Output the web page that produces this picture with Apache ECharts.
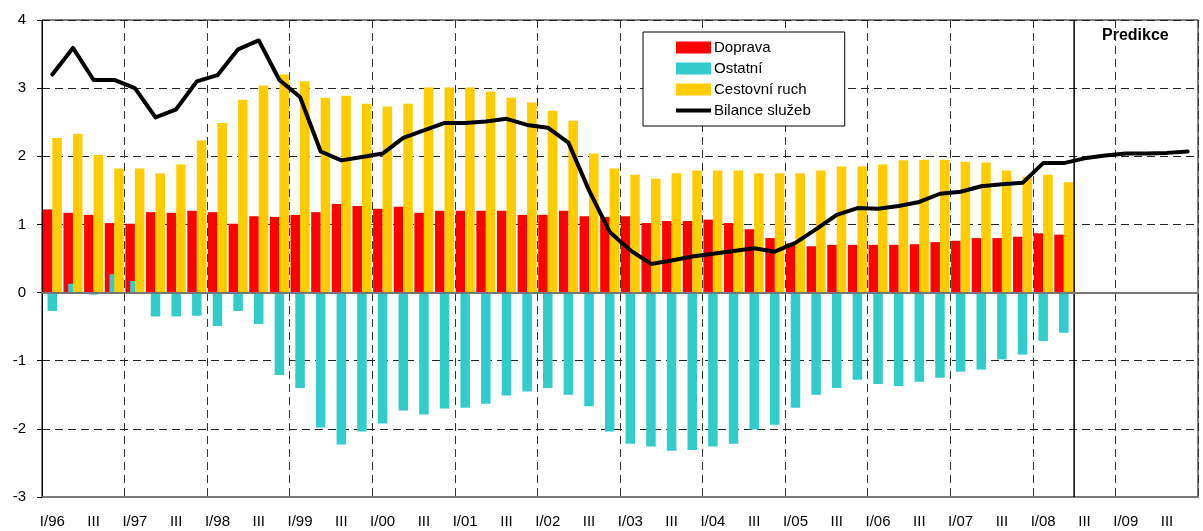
<!DOCTYPE html>
<html>
<head>
<meta charset="utf-8">
<script src="https://cdn.jsdelivr.net/npm/echarts@6/dist/echarts.min.js"></script>
<style>
  html, body { margin: 0; padding: 0; background: #fff; }
  #chart { width: 1203px; height: 531px; }
</style>
</head>
<body>
<div id="chart"></div>
<script>
// quarters I/96 .. IV/09
const quarters = [
    "I/96", "II/96", "III/96", "IV/96", "I/97", "II/97", "III/97", "IV/97",
    "I/98", "II/98", "III/98", "IV/98", "I/99", "II/99", "III/99", "IV/99",
    "I/00", "II/00", "III/00", "IV/00", "I/01", "II/01", "III/01", "IV/01",
    "I/02", "II/02", "III/02", "IV/02", "I/03", "II/03", "III/03", "IV/03",
    "I/04", "II/04", "III/04", "IV/04", "I/05", "II/05", "III/05", "IV/05",
    "I/06", "II/06", "III/06", "IV/06", "I/07", "II/07", "III/07", "IV/07",
    "I/08", "II/08", "III/08", "IV/08", "I/09", "II/09", "III/09", "IV/09",
];

const doprava = [1.22, 1.17, 1.14, 1.02, 1.01, 1.18, 1.17, 1.20, 1.18, 1.01, 1.12, 1.11,
    1.14, 1.18, 1.30, 1.27, 1.23, 1.26, 1.17, 1.20, 1.20, 1.20, 1.20, 1.14, 1.14, 1.20, 1.12,
    1.11, 1.12, 1.02, 1.05, 1.05, 1.07, 1.02, 0.93, 0.80, 0.72, 0.68, 0.70, 0.70, 0.70, 0.70,
    0.71, 0.74, 0.76, 0.80, 0.80, 0.82, 0.87, 0.85];

const ostatni = [-0.27, 0.13, -0.03, 0.27, 0.17, -0.35, -0.35, -0.34, -0.49, -0.27, -0.46, -1.21, -1.40,
    -1.98, -2.23, -2.04, -1.92, -1.73, -1.79, -1.70, -1.69, -1.63, -1.51, -1.45, -1.40, -1.50, -1.67,
    -2.04, -2.22, -2.26, -2.32, -2.31, -2.26, -2.22, -2.01, -1.94, -1.69, -1.50, -1.40, -1.28, -1.34, -1.37,
    -1.31, -1.25, -1.16, -1.13, -0.98, -0.91, -0.71, -0.59];

const cestovniRuch = [2.27, 2.33, 2.02, 1.82, 1.82, 1.75, 1.88, 2.23, 2.49, 2.83, 3.04, 3.20,
    3.10, 2.86, 2.89, 2.77, 2.73, 2.77, 3.01, 3.01, 3.01, 2.95, 2.86, 2.79, 2.67, 2.52, 2.04,
    1.82, 1.73, 1.67, 1.75, 1.79, 1.79, 1.79, 1.75, 1.75, 1.75, 1.79, 1.85, 1.85, 1.88, 1.94,
    1.95, 1.95, 1.92, 1.91, 1.79, 1.70, 1.73, 1.62];

const bilance = [3.20, 3.59, 3.12, 3.12, 3.00, 2.57, 2.69, 3.10, 3.19, 3.57, 3.70, 3.12,
    2.87, 2.07, 1.94, 1.99, 2.04, 2.27, 2.38, 2.49, 2.49, 2.51, 2.55, 2.46, 2.42, 2.20, 1.50,
    0.89, 0.62, 0.42, 0.47, 0.53, 0.57, 0.61, 0.65, 0.60, 0.73, 0.93, 1.14, 1.24, 1.23, 1.27,
    1.33, 1.45, 1.48, 1.56, 1.59, 1.61, 1.90, 1.90, 1.97, 2.01, 2.04, 2.04, 2.05, 2.07];

const yTicks = [-3, -2, -1, 0, 1, 2, 3, 4];
const predictionStart = quarters.indexOf("III/08");

const font = "Liberation Sans, Arial, sans-serif";
// thick line icon for the legend (bounding box padded to the full item height)
const lineIcon = "path://M0,0L0.01,0Z M0,4L35,4L35,8L0,8Z M0,12L0.01,12Z";

const chart = echarts.init(document.getElementById("chart"));

const option = {
    animation: false,
    textStyle: { fontFamily: font },
    grid: {
        left: 42, right: 5, top: 20, bottom: 34,
        show: true, borderColor: "#000", borderWidth: 1,
    },
    legend: {
        orient: "vertical",
        left: 643, top: 32,
        padding: [8, 34, 8, 33],
        backgroundColor: "#fff",
        borderColor: "#000",
        borderWidth: 1,
        itemWidth: 35,
        itemHeight: 12,
        itemGap: 6,
        textStyle: { fontSize: 15, color: "#000", fontFamily: font, padding: [0, 0, 0, -2] },
        data: [
            { name: "Doprava", icon: "rect" },
            { name: "Ostatní", icon: "rect" },
            { name: "Cestovní ruch", icon: "rect" },
            { name: "Bilance služeb", icon: lineIcon },
        ],
    },
    xAxis: [
        {
            // zero line
            type: "category", data: quarters, z: 5,
            axisLine: { onZero: true, lineStyle: { color: "#777", width: 2 } },
            axisTick: { show: false }, axisLabel: { show: false }, splitLine: { show: false },
        },
        {
            // bottom axis with labels
            type: "category", data: quarters, position: "bottom",
            axisLine: { onZero: false, lineStyle: { color: "#777", width: 2 } },
            axisTick: { show: false },
            axisLabel: {
                interval: 1, margin: 17, fontSize: 15, color: "#000", fontFamily: font,
                formatter: (v) => (v.startsWith("III/") ? "III" : v),
            },
            splitLine: { show: false },
        },
        {
            // year gridlines
            type: "value", min: 0, max: quarters.length, interval: 4, show: true,
            axisLine: { show: false }, axisTick: { show: false }, axisLabel: { show: false },
            splitLine: { show: true, lineStyle: { color: "#333", type: [8, 5], width: 1 } },
        },
    ],
    yAxis: {
        type: "value", min: -3, max: 4, interval: 1,
        axisLine: { show: true, onZero: false, lineStyle: { color: "#000", width: 1 } },
        axisTick: { show: true, inside: false, length: 5, lineStyle: { color: "#000" } },
        axisLabel: {
            margin: 16, fontSize: 15, color: "#000", fontFamily: font,
            formatter: (v) => (yTicks.includes(v) ? String(v) : ""),
        },
        splitLine: { show: true, lineStyle: { color: "#222", type: [8, 5], width: 1 } },
    },
    series: [
        {
            name: "Doprava", type: "bar", xAxisIndex: 0, data: doprava,
            barWidth: 9.5, barGap: 0,
            itemStyle: { color: "#FF0000" },
        },
        {
            name: "Ostatní", type: "bar", xAxisIndex: 1, data: ostatni,
            barWidth: 9.5,
            itemStyle: { color: "#33CCCC" },
        },
        {
            name: "Cestovní ruch", type: "bar", xAxisIndex: 0, data: cestovniRuch,
            barWidth: 9.5, barGap: 0,
            itemStyle: { color: "#FFCC00" },
        },
        {
            name: "Bilance služeb", type: "line", xAxisIndex: 0, data: bilance,
            symbol: "none", z: 6,
            lineStyle: { color: "#000", width: 4, join: "round", cap: "round" },
            itemStyle: { color: "#000" },
        },
        {
            // start of the prediction period
            name: "predikce", type: "line", xAxisIndex: 2,
            data: [[predictionStart, -3], [predictionStart, 4]],
            symbol: "none", silent: true, z: 4,
            lineStyle: { color: "#000", width: 1.5 },
        },
    ],
    graphic: [
        {
            type: "text", left: 1102, top: 28,
            style: { text: "Predikce", font: "bold 16px " + font, fill: "#000" },
        },
    ],
};

chart.setOption(option);
window.addEventListener("resize", () => chart.resize());
</script>
</body>
</html>
